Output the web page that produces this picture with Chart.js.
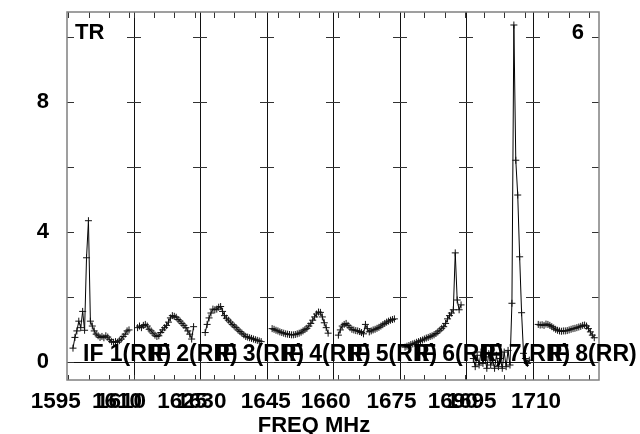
<!DOCTYPE html>
<html>
<head>
<meta charset="utf-8">
<script src="https://cdn.jsdelivr.net/npm/chart.js@4.4.1/dist/chart.umd.min.js"></script>
<style>
  html, body { margin: 0; padding: 0; background: #fff; }
</style>
</head>
<body>
<canvas id="possm" width="640" height="434"></canvas>
<script>
// ---------------------------------------------------------------
// data
// ---------------------------------------------------------------
const IF_NAMES = ['IF 1(RR)', 'IF 2(RR)', 'IF 3(RR)', 'IF 4(RR)', 'IF 5(RR)', 'IF 6(RR)', 'IF 7(RR)', 'IF 8(RR)'];

// frequency at the left edge of each IF panel, and panel width (MHz)
const PANEL_LO_MHZ = [1594.7, 1610.0, 1626.6, 1642.1, 1658.7, 1673.9, 1690.6, 1706.1];
const PANEL_SPAN_MHZ = 16.3;

// first channel of each IF and channel spacing (MHz)
const FIRST_CHAN_MHZ = [1596.17, 1611.0, 1627.87, 1643.48, 1660.02, 1675.26, 1692.39, 1707.51];
const CHAN_STEP_MHZ = 0.4734;

// amplitude per channel, one array per IF
const AMP_IF1 = [0.42, 0.75, 0.95, 1.25, 1.05, 1.55, 0.97, 3.2, 4.34, 1.25, 1.1, 0.95, 0.85, 0.8, 0.75,
                 0.78, 0.74, 0.8, 0.76, 0.68, 0.62, 0.6, 0.62, 0.6, 0.65, 0.7, 0.78, 0.85, 0.95, 0.98];
const AMP_IF2 = [1.05, 1.1, 1.05, 1.12, 1.15, 1.1, 1.0, 0.95, 0.88, 0.82, 0.78, 0.8, 0.9, 0.98, 1.05,
                 1.12, 1.22, 1.35, 1.42, 1.4, 1.37, 1.3, 1.25, 1.18, 1.12, 1.05, 0.95, 0.85, 0.7, 1.08];
const AMP_IF3 = [0.9, 1.15, 1.35, 1.5, 1.62, 1.6, 1.62, 1.68, 1.7, 1.55, 1.42, 1.34, 1.28, 1.22, 1.15,
                 1.1, 1.05, 0.98, 0.93, 0.88, 0.83, 0.78, 0.76, 0.74, 0.72, 0.7, 0.68, 0.66, 0.64, 0.62];
const AMP_IF4 = [1.02, 1.0, 0.97, 0.95, 0.92, 0.9, 0.88, 0.86, 0.85, 0.84, 0.83, 0.83, 0.84, 0.86, 0.88,
                 0.91, 0.95, 0.99, 1.03, 1.1, 1.18, 1.28, 1.38, 1.47, 1.53, 1.52, 1.38, 1.2, 1.05, 0.88];
const AMP_IF5 = [0.82, 0.98, 1.1, 1.15, 1.18, 1.12, 1.05, 1.0, 0.98, 0.96, 0.95, 0.93, 0.9, 0.86, 1.15,
                 1.02, 0.92, 0.95, 0.98, 1.0, 1.03, 1.06, 1.1, 1.14, 1.18, 1.22, 1.25, 1.28, 1.3, 1.32];
const AMP_IF6 = [0.45, 0.48, 0.5, 0.53, 0.55, 0.57, 0.6, 0.62, 0.65, 0.67, 0.7, 0.73, 0.75, 0.78, 0.8,
                 0.83, 0.87, 0.92, 0.97, 1.03, 1.08, 1.18, 1.32, 1.42, 1.5, 1.6, 3.35, 1.9, 1.6, 1.75];
const AMP_IF7 = [0.1, -0.15, 0.2, -0.1, 0.3, -0.05, 0.15, -0.2, 0.25, -0.1, 0.05, -0.2, 0.2, -0.15, 0.1,
                 -0.2, 0.3, -0.15, 0.35, -0.1, 1.8, 10.36, 6.2, 5.13, 3.23, 1.51, 0.26, 0.1, -0.05, 0.05];
const AMP_IF8 = [1.15, 1.13, 1.14, 1.12, 1.16, 1.15, 1.12, 1.08, 1.04, 1.0, 0.97, 0.95, 0.94, 0.95, 0.95,
                 0.96, 0.98, 1.0, 1.02, 1.03, 1.05, 1.07, 1.09, 1.12, 1.13, 1.1, 1.02, 0.92, 0.82, 0.74];
const AMPS = [AMP_IF1, AMP_IF2, AMP_IF3, AMP_IF4, AMP_IF5, AMP_IF6, AMP_IF7, AMP_IF8];

// axis ticks
const X_TICKS_MHZ = [[1595, 1600, 1605, 1610], [1610, 1615, 1620, 1625], [1630, 1635, 1640], [1645, 1650, 1655],
                     [1660, 1665, 1670], [1675, 1680, 1685, 1690], [1695, 1700, 1705], [1710, 1715, 1720]];
const X_LABELS_MHZ = [[1595, 1610], [1610, 1625], [1630], [1645], [1660], [1675, 1690], [1695], [1710]];
const Y_TICKS = [0, 2, 4, 6, 8, 10];
const Y_LABELS = [0, 4, 8];
const Y_MIN = -0.56, Y_MAX = 10.76;

const CORNER_LEFT = 'TR';
const CORNER_RIGHT = '6';
const X_TITLE = 'FREQ MHz';

// ---------------------------------------------------------------
// panel coordinate: IF i occupies [i, i+1] on the x axis
// ---------------------------------------------------------------
function toPanel(i, mhz) { return i + (mhz - PANEL_LO_MHZ[i]) / PANEL_SPAN_MHZ; }

const xTicks = [];
X_TICKS_MHZ.forEach((list, i) => {
    list.forEach(f => xTicks.push({ value: toPanel(i, f), text: X_LABELS_MHZ[i].includes(f) ? String(f) : '' }));
});

const datasets = AMPS.map((amps, i) => ({
    label: IF_NAMES[i],
    data: amps.map((a, k) => ({ x: toPanel(i, FIRST_CHAN_MHZ[i] + k * CHAN_STEP_MHZ), y: a })),
    borderColor: '#000',
    borderWidth: 1,
    pointStyle: 'cross',
    pointRadius: 3.5,
    pointBorderWidth: 1,
    pointBorderColor: '#111',
    fill: false,
    tension: 0
}));

const FONT = "'Liberation Sans', Arial, sans-serif";

// frame, panel dividers, inside tick marks and the plot texts
const possmDecor = {
    id: 'possmDecor',
    beforeDatasetsDraw(chart) {
        const { ctx, chartArea: { left, right, top, bottom } } = chart;
        const xs = chart.scales.x, ys = chart.scales.y;
        ctx.save();
        ctx.lineWidth = 1;
        ctx.strokeStyle = '#111';
        ctx.beginPath();
        for (let i = 1; i < IF_NAMES.length; i++) {
            const px = Math.round(xs.getPixelForValue(i)) + 0.5;
            ctx.moveTo(px, top); ctx.lineTo(px, bottom);
        }
        const y0 = Math.round(ys.getPixelForValue(0)) + 0.5;
        ctx.moveTo(left, y0); ctx.lineTo(right, y0);
        ctx.stroke();

        ctx.strokeStyle = '#333';
        ctx.beginPath();
        xTicks.forEach(t => {
            const px = Math.round(xs.getPixelForValue(t.value)) + 0.5;
            ctx.moveTo(px, bottom); ctx.lineTo(px, bottom - 5);
            ctx.moveTo(px, top); ctx.lineTo(px, top + 6);
        });
        for (let i = 0; i <= IF_NAMES.length; i++) {
            const px = Math.round(xs.getPixelForValue(i));
            Y_TICKS.forEach(v => {
                const py = Math.round(ys.getPixelForValue(v)) + 0.5;
                const a = i === 0 ? px : px - 7;
                const b = i === IF_NAMES.length ? px : px + 7;
                ctx.moveTo(a, py); ctx.lineTo(b, py);
            });
        }
        ctx.stroke();

        ctx.strokeStyle = '#808080';
        ctx.lineWidth = 1.5;
        ctx.strokeRect(left, top, right - left, bottom - top);
        ctx.restore();
    },
    afterDatasetsDraw(chart) {
        const { ctx, chartArea: { left, right, top } } = chart;
        const xs = chart.scales.x, ys = chart.scales.y;
        ctx.save();
        ctx.fillStyle = '#000';
        ctx.textBaseline = 'alphabetic';
        ctx.font = 'bold 23px ' + FONT;
        const y0 = ys.getPixelForValue(0);
        IF_NAMES.forEach((name, i) => ctx.fillText(name, xs.getPixelForValue(i) + 16, y0 - 1));

        ctx.font = 'bold 22px ' + FONT;
        ctx.fillText(CORNER_LEFT, left + 8, top + 27);
        ctx.textAlign = 'right';
        ctx.fillText(CORNER_RIGHT, right - 15, top + 27);
        ctx.textAlign = 'center';
        ctx.fillText(X_TITLE, (left + right) / 2 - 19, chart.height - 2);
        ctx.restore();
    }
};

new Chart(document.getElementById('possm'), {
    type: 'line',
    data: { datasets },
    options: {
        responsive: false,
        animation: false,
        devicePixelRatio: 1,
        events: [],
        layout: { padding: { left: 0, right: 41, top: 12, bottom: 0 } },
        plugins: { legend: { display: false }, tooltip: { enabled: false } },
        scales: {
            x: {
                type: 'linear',
                min: 0,
                max: IF_NAMES.length,
                grid: { display: false },
                border: { display: false },
                afterBuildTicks: axis => { axis.ticks = xTicks.map(t => ({ value: t.value })); },
                afterFit: axis => { axis.height = 54; axis.paddingLeft = 0; axis.paddingRight = 0; },
                ticks: {
                    autoSkip: false,
                    maxRotation: 0,
                    padding: 0,
                    labelOffset: -12.5,
                    color: '#000',
                    font: { family: FONT, size: 22.5, weight: 'bold' },
                    callback: (v, idx) => xTicks[idx] ? xTicks[idx].text : ''
                }
            },
            y: {
                min: Y_MIN,
                max: Y_MAX,
                grid: { display: false },
                border: { display: false },
                afterBuildTicks: axis => { axis.ticks = Y_TICKS.map(v => ({ value: v })); },
                afterFit: axis => { axis.width = 67; axis.paddingTop = 0; axis.paddingBottom = 0; },
                ticks: {
                    padding: 10,
                    color: '#000',
                    font: { family: FONT, size: 22, weight: 'bold' },
                    callback: v => Y_LABELS.includes(v) ? String(v) : ''
                }
            }
        }
    },
    plugins: [possmDecor]
});
</script>
</body>
</html>
